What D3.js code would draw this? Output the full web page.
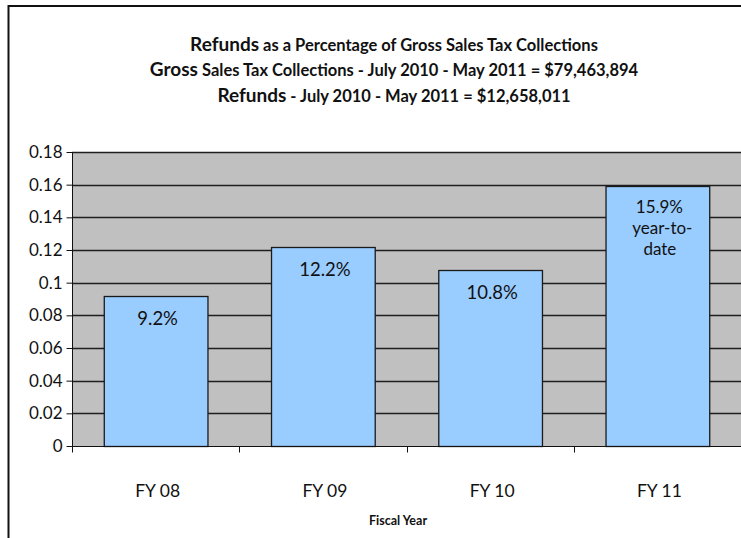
<!DOCTYPE html>
<html><head><meta charset="utf-8">
<script src="https://cdn.jsdelivr.net/npm/d3@7"></script>
<style>
html,body{margin:0;padding:0;background:#fff;}
svg{display:block;font-family:Lato,"Open Sans",sans-serif;}
</style></head>
<body><svg id="c" width="741" height="538"></svg>
<script>
const categories = ["FY 08","FY 09","FY 10","FY 11"];
const values = [0.092, 0.122, 0.108, 0.159];
const barLabels = [["9.2%"],["12.2%"],["10.8%"],["15.9%","year-to-","date"]];
const yTicks = [0,0.02,0.04,0.06,0.08,0.1,0.12,0.14,0.16,0.18];
const titleLines = [
  ["Refunds"," as a Percentage of Gross Sales Tax Collections"],
  ["Gross"," Sales Tax Collections - July 2010 - May 2011 = $79,463,894"],
  ["Refunds"," - July 2010 - May 2011 = $12,658,011"]
];
const xTitle = "Fiscal Year";

const svg = d3.select("#c");
const m = {left:72, right:741, top:152, bottom:446};

// frame
svg.append("path").attr("d","M8.5,545 V6 H745").attr("fill","none").attr("stroke","#111").attr("stroke-width",2);

const x = d3.scaleBand().domain(categories).range([m.left, m.right]).paddingInner(0.38).paddingOuter(0.19);
const y = d3.scaleLinear().domain([0,0.18]).range([m.bottom, m.top]);

svg.append("rect").attr("x",m.left).attr("y",m.top).attr("width",m.right-m.left).attr("height",m.bottom-m.top).attr("fill","#c0c0c0");

// gridlines
svg.append("g").selectAll("line").data(yTicks.filter(d=>d>0)).join("line")
  .attr("x1",m.left).attr("x2",m.right)
  .attr("y1",d=>Math.round(y(d))+0.5).attr("y2",d=>Math.round(y(d))+0.5)
  .attr("stroke","#1e1e1e").attr("stroke-width",1.4);

// bars
svg.append("g").selectAll("rect").data(values).join("rect")
  .attr("x",(d,i)=>x(categories[i])+0.5).attr("width",x.bandwidth())
  .attr("y",d=>Math.round(y(d))+0.5).attr("height",d=>m.bottom-Math.round(y(d)))
  .attr("fill","#99ccff").attr("stroke","#1a1a1a").attr("stroke-width",1.3);

// bar labels (one text element per line)
const lg = svg.append("g").attr("fill","#111").attr("text-anchor","middle");
values.forEach((v,i)=>{
  const cx = x(categories[i]) + x.bandwidth()/2 + 2;
  const multi = barLabels[i].length > 1;
  barLabels[i].forEach((s,j)=>{
    lg.append("text")
      .attr("x",cx + (j===1?3:(j===2?0.5:0)))
      .attr("y",y(v) + (multi?27:29) + j*20.6)
      .attr("font-size", multi ? 17 : 18.5).text(s);
  });
});

// y axis
const ya = svg.append("g").attr("transform",`translate(${m.left+0.5},0)`)
  .call(d3.axisLeft(y).tickValues(yTicks).tickSize(6).tickPadding(4).tickFormat(d=>d===0?"0":String(+d.toFixed(2))));
ya.select(".domain").attr("stroke","#111").attr("d",`M0,${m.top}V${m.bottom+6}`);
ya.selectAll(".tick line").attr("stroke","#111");
ya.selectAll("text").attr("font-size",17).attr("fill","#111").attr("font-family","Lato,sans-serif");

// x axis
const bandStep = x.step();
const xa = svg.append("g").attr("transform",`translate(0,${m.bottom+0.5})`);
xa.append("line").attr("x1",m.left).attr("x2",m.right).attr("stroke","#111");
const bounds = d3.range(categories.length+1).map(i=>m.left + i*bandStep);
xa.selectAll("line.t").data(bounds).join("line").attr("class","t")
  .attr("x1",d=>Math.round(d)+0.5).attr("x2",d=>Math.round(d)+0.5).attr("y1",0).attr("y2",6).attr("stroke","#111");
xa.selectAll("text").data(categories).join("text")
  .attr("x",d=>x(d)+x.bandwidth()/2+2).attr("y",50).attr("text-anchor","middle")
  .attr("font-size",17.5).attr("fill","#111").text(d=>d);

svg.append("text").attr("x",398).attr("y",525).attr("text-anchor","middle")
  .attr("font-size",12.5).attr("font-weight","bold").attr("fill","#111").text(xTitle);

// title
const ty = [51,76,102];
titleLines.forEach((ln,i)=>{
  const t = svg.append("text").attr("x",394).attr("y",ty[i]).attr("text-anchor","middle")
    .attr("font-weight","bold").attr("fill","#111");
  t.append("tspan").attr("font-size",19).text(ln[0]);
  t.append("tspan").attr("font-size",16.5).text(ln[1]);
});
</script></body></html>
